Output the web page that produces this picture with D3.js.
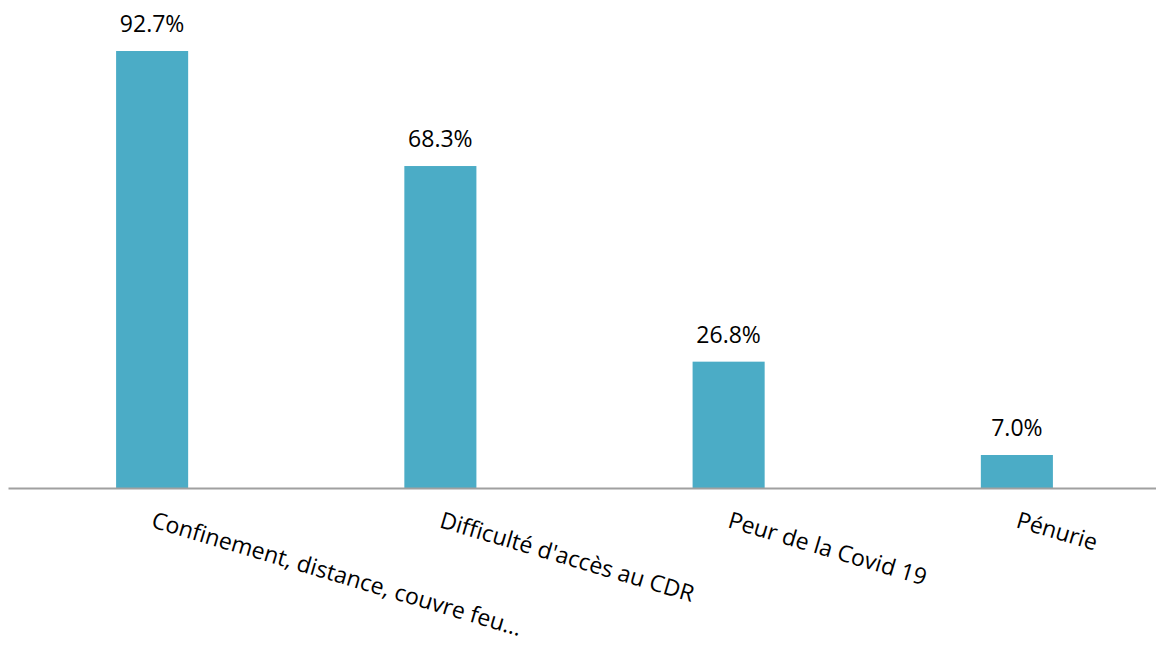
<!DOCTYPE html>
<html>
<head>
<meta charset="utf-8">
<script src="https://cdn.jsdelivr.net/npm/d3@7"></script>
<style>
  html, body { margin: 0; padding: 0; background: #fff; }
  svg { display: block; font-family: "Open Sans", "Noto Sans", sans-serif; }
</style>
</head>
<body>
<svg id="chart" width="1156" height="646"></svg>
<script>
// Reasons cited (share of respondents, %)
const categories = [
  "Confinement, distance, couvre feu...",
  "Difficulté d'accès au CDR",
  "Peur de la Covid 19",
  "Pénurie"
];
const values = [92.7, 68.3, 26.8, 7.0];
const valueLabels = ["92.7%", "68.3%", "26.8%", "7.0%"];

const svg = d3.select("#chart");
const baseline = 488;

const x = d3.scaleBand()
  .domain(categories)
  .range([8, 1161])
  .padding(0);

const y = d3.scaleLinear()
  .domain([0, 100])
  .range([baseline, 16.6]);

const barW = x.bandwidth() * 0.25;

// Bars
svg.append("g")
  .selectAll("rect")
  .data(categories)
  .join("rect")
  .attr("x", (d) => x(d) + x.bandwidth() / 2 - barW / 2)
  .attr("y", (d, i) => y(values[i]))
  .attr("width", barW)
  .attr("height", (d, i) => baseline - y(values[i]))
  .attr("fill", "#4BACC6");

// Value labels above bars
svg.append("g")
  .selectAll("text")
  .data(categories)
  .join("text")
  .attr("x", (d) => x(d) + x.bandwidth() / 2)
  .attr("y", (d, i) => y(values[i]) - 19)
  .attr("text-anchor", "middle")
  .attr("font-size", 23)
  .attr("fill", "#000")
  .text((d, i) => valueLabels[i]);

// Category axis with slanted labels
const axis = svg.append("g")
  .attr("transform", `translate(0,${baseline})`)
  .call(d3.axisBottom(x).tickSize(0).tickSizeOuter(0));

axis.select(".domain")
  .attr("stroke", "#A0A0A0")
  .attr("stroke-width", 2);

axis.selectAll(".tick text")
  .attr("x", 0)
  .attr("y", 0)
  .attr("dy", 0)
  .attr("text-anchor", "start")
  .attr("transform", "translate(-2,39) rotate(16.5)")
  .attr("font-size", 23)
  .attr("font-family", "\"Open Sans\", \"Noto Sans\", sans-serif")
  .attr("fill", "#000");
</script>
</body>
</html>
